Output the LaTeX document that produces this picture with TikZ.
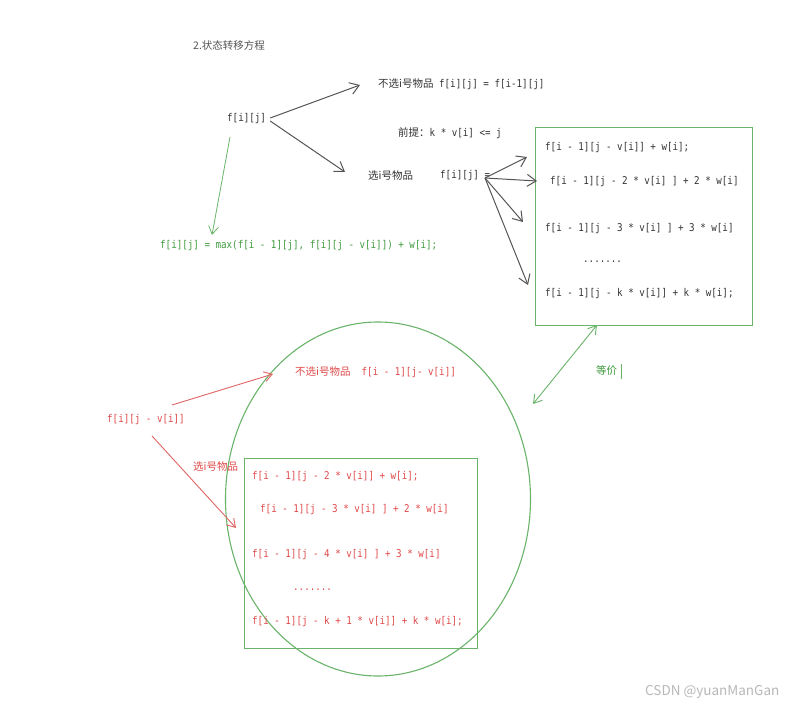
\documentclass[tikz,border=0pt]{standalone}
\usepackage{fontspec}
\setmainfont[FakeStretch=0.86]{DejaVu Sans Mono}
\newfontfamily\cjkf{Noto Sans CJK SC}
\newcommand\cj[1]{{\cjkf\fontsize{10.5}{12}\selectfont #1}}
\usetikzlibrary{arrows.meta,shapes.geometric}
\definecolor{dark}{HTML}{333333}
\definecolor{arrgrey}{HTML}{555555}
\definecolor{grn}{HTML}{6AB46A}
\definecolor{grntext}{HTML}{3E9A3E}
\definecolor{rd}{HTML}{E06464}
\definecolor{rdtext}{HTML}{E04848}
\definecolor{wm}{HTML}{B8B8B8}
\begin{document}
\begin{tikzpicture}[x=1pt,y=-1pt,
  font=\fontsize{10.7}{12}\selectfont,
  txt/.style={anchor=west, inner sep=0pt, text=dark},
  gtxt/.style={anchor=west, inner sep=0pt, text=grntext},
  rtxt/.style={anchor=west, inner sep=0pt, text=rdtext},
  darr/.style={draw=arrgrey, line width=1pt, -{Straight Barb[length=9pt,width=12pt]}},
  garr/.style={draw=grn, line width=0.8pt, -{Straight Barb[length=8pt,width=10pt]}},
  gdarr/.style={draw=grn, line width=0.9pt, {Straight Barb[length=8pt,width=10pt]}-{Straight Barb[length=8pt,width=10pt]}},
  rarr/.style={draw=rd, line width=0.9pt, -{Straight Barb[length=8pt,width=10pt]}},
  gbox/.style={draw=grn, line width=1.3pt}]
\useasboundingbox (0,0) rectangle (803,708);
\fill[white] (0,0) rectangle (803,708);

% title
\node[txt, text=arrgrey] (title) at (193,46) {\cj{2.状态转移方程}};

% top part
\node[txt] (fij) at (227,119) {f[i][j]};
\node[txt] (nosel) at (378,84) {\cj{不选i号物品}\ f[i][j] = f[i-1][j]};
\node[txt] (prem) at (398,133) {\cj{前提：}k * v[i] <= j};
\node[txt] (sel) at (368,176) {\cj{选i号物品}};
\node[txt] (fij2) at (440,176) {f[i][j] =};
\coordinate (a1) at (360,85);
\coordinate (a2) at (345,172);
\draw[darr] (fij.east) ++(4,-1) -- (a1);
\draw[darr] (fij.east) ++(4,2) -- (a2);

% box of terms
\node[gbox, anchor=north west, minimum width=217pt, minimum height=198pt, inner sep=0pt] (box1) at (535,127) {};
\node[txt] (t1) at (545,148) {f[i - 1][j - v[i]] + w[i];};
\node[txt] (t2) at (550,182) {f[i - 1][j - 2 * v[i] ] + 2 * w[i]};
\node[txt] (t3) at (545,229) {f[i - 1][j - 3 * v[i] ] + 3 * w[i]};
\node[txt] (t4) at (583,262) {.......};
\node[txt] (t5) at (545,294) {f[i - 1][j - k * v[i]] + k * w[i];};
\coordinate (s) at (485,178);
\draw[darr] (s) -- (527,157);
\draw[darr] (s) -- (537,181);
\draw[darr] (s) -- (523,222);
\draw[darr] (s) -- (528,285);

% green result
\node[gtxt] (res) at (160,246) {f[i][j] = max(f[i - 1][j], f[i][j - v[i]]) + w[i];};
\draw[garr] (230,137) -- (212,235);

% ellipse
\node[draw=grn, line width=1.1pt, ellipse, minimum width=305pt, minimum height=354pt, inner sep=0pt] (ell) at (378,499) {};
\coordinate (eq) at (533,404);
\draw[gdarr] (597,325) -- (eq);
\node[gtxt] (equiv) at (596,371) {\cj{等价}};
\draw[grn, line width=0.6pt] (621,364) -- (621,379);

% red part
\node[rtxt] (fijv) at (107,420) {f[i][j - v[i]]};
\node[rtxt] (rnosel) at (295,372) {\cj{不选i号物品}\ \ f[i - 1][j- v[i]]};
\node[rtxt] (rsel) at (193,467) {\cj{选i号物品}};
\draw[rarr] (172,405) -- (273,374);
\draw[rarr] (152,436) -- (236,528);

\node[gbox, anchor=north west, minimum width=233pt, minimum height=190pt, inner sep=0pt] (box2) at (244,458) {};
\node[rtxt] (r1) at (252,477) {f[i - 1][j - 2 * v[i]] + w[i];};
\node[rtxt] (r2) at (260,510) {f[i - 1][j - 3 * v[i] ] + 2 * w[i]};
\node[rtxt] (r3) at (252,555) {f[i - 1][j - 4 * v[i] ] + 3 * w[i]};
\node[rtxt] (r4) at (293,590) {.......};
\node[rtxt] (r5) at (252,622) {f[i - 1][j - k + 1 * v[i]] + k * w[i];};

% watermark
\node[anchor=west, inner sep=0pt, text=wm, font=\cjkf\fontsize{13.5}{15}\selectfont] (wmk) at (645,692) {CSDN @yuanManGan};
\end{tikzpicture}
\end{document}
